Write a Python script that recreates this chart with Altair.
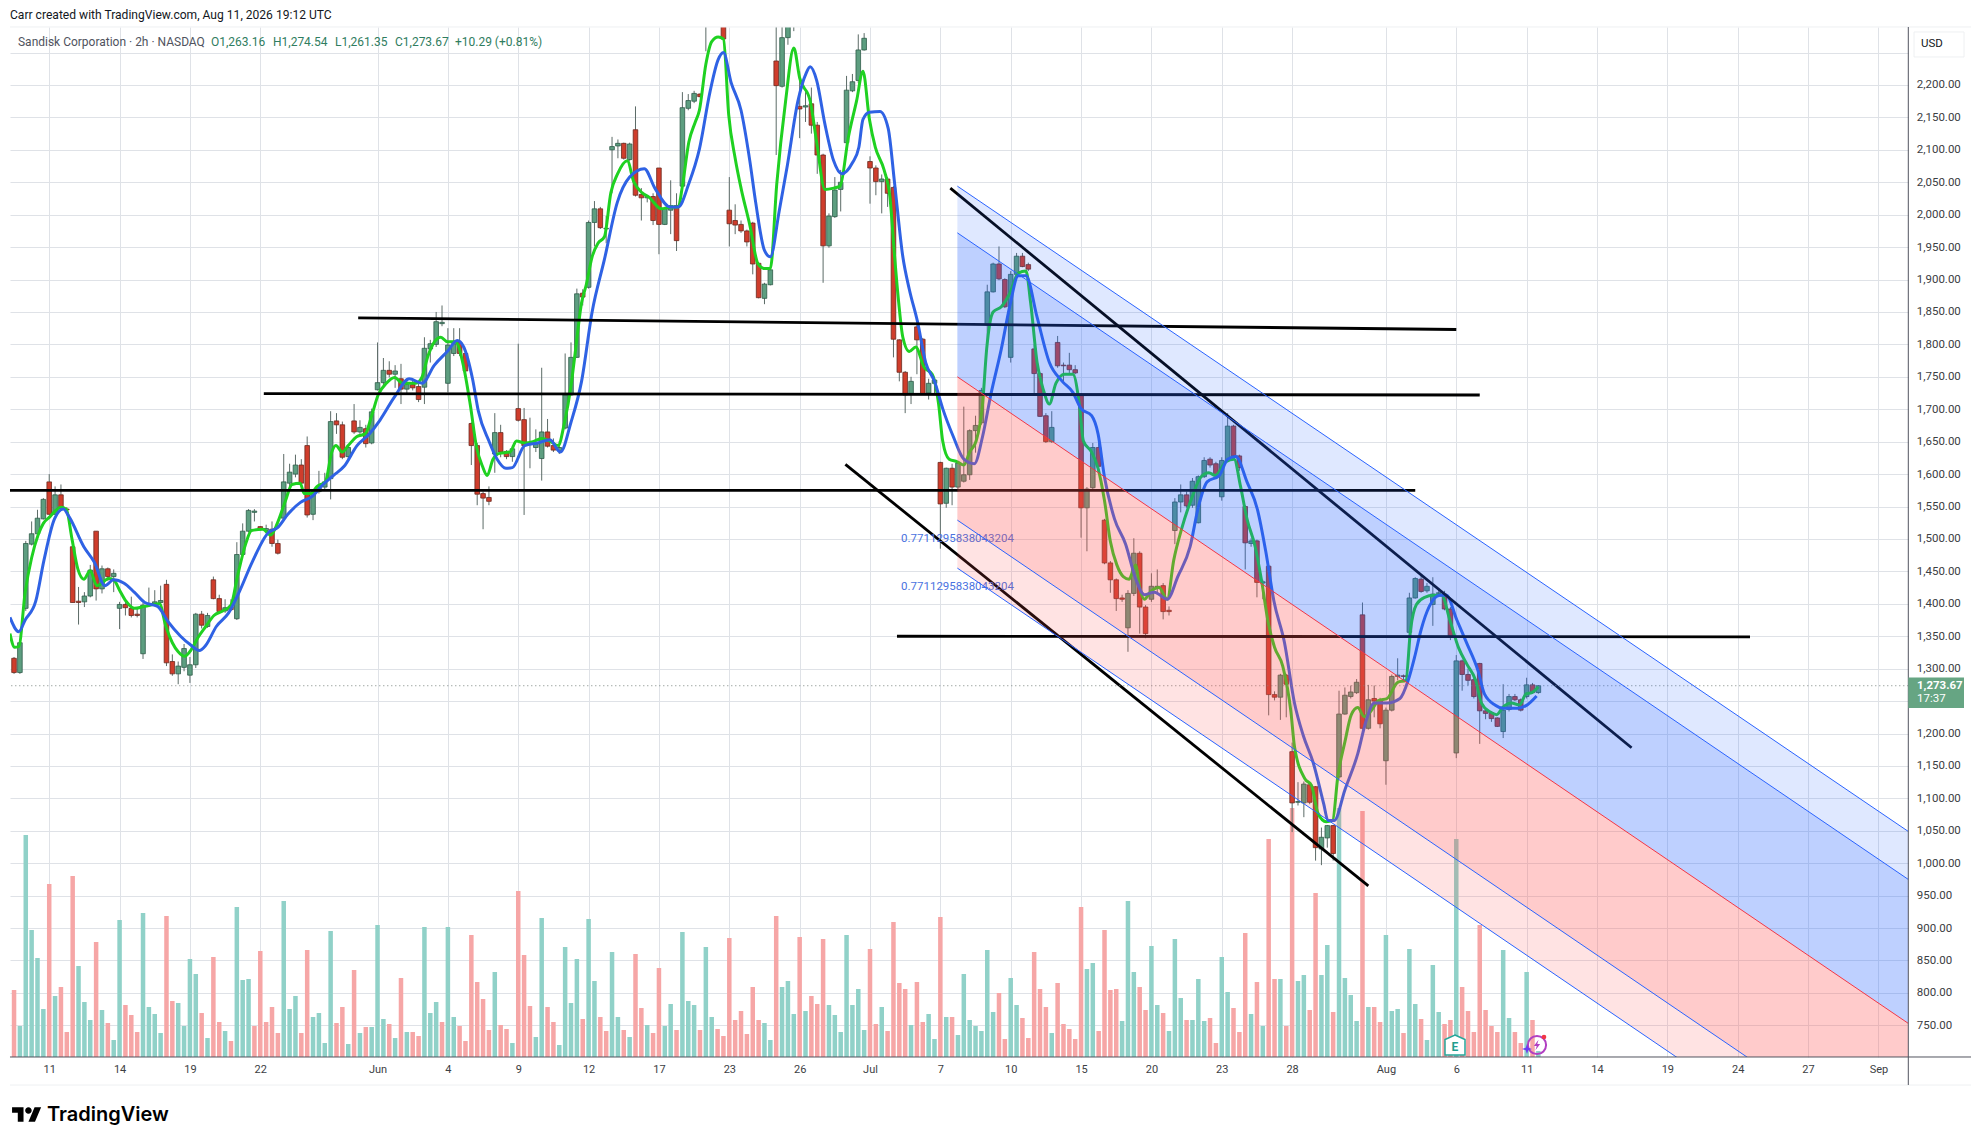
import altair as alt
import pandas as pd

# ---------- candle data (bar index, price) ----------
open_ = [1316,1294,1393,1492,1508,1531,1588,1538,1568,1546,
 1488,1404,1403,1412,1512,1423,1454,1442,1393,1399,
 1393,1384,1323,1397,1398,1402,1430,1311,1292,1302,
 1290,1306,1384,1365,1437,1408,1389,1395,1377,1476,
 1512,1541,1519,1513,1515,1493,1532,1586,1600,1614,
 1644,1538,1573,1580,1593,1682,1676,1627,1682,1665,
 1670,1648,1730,1741,1760,1754,1747,1731,1738,1735,
 1734,1793,1800,1832,1740,1786,1803,1786,1678,1644,
 1570,1564,1631,1664,1635,1627,1701,1684,1646,1641,
 1624,1665,1644,1636,1671,1722,1780,1879,1888,1988,
 2009,1978,2100,2106,2110,2085,2131,2031,2026,2028,
 2072,1985,2007,2014,2044,2164,2175,2186,2300,2345,
 2380,2330,2007,1991,1985,1975,1987,1925,1871,1892,
 2237,2198,2273,2300,2167,2166,2171,2138,2092,1952,
 1997,2039,2111,2191,2207,2254,2082,2072,2051,2055,
 2042,1807,1757,1723,1827,1808,1725,1740,1618,1555,
 1609,1580,1589,1599,1667,1679,1830,1881,1924,1900,
 1780,1908,1936,1923,1793,1755,1690,1650,1803,1768,
 1768,1761,1722,1548,1579,1641,1529,1463,1437,1409,
 1363,1416,1478,1395,1407,1426,1428,1390,1513,1557,
 1568,1552,1525,1596,1623,1616,1565,1621,1674,1628,
 1550,1493,1497,1432,1458,1260,1256,1290,1172,1094,
 1093,1121,1118,1022,1039,1058,1133,1230,1257,1263,
 1383,1208,1254,1252,1158,1236,1288,1289,1356,1409,
 1438,1420,1399,1416,1415,1392,1170,1312,1291,1283,
 1308,1235,1232,1224,1203,1237,1257,1252,1257,1275,1263.16]
close_ = [1294,1340,1493,1508,1532,1561,1538,1568,1547,1545,
 1402,1402,1412,1452,1423,1454,1442,1447,1399,1394,
 1382,1382,1398,1398,1403,1405,1309,1292,1304,1331,
 1306,1384,1367,1382,1408,1388,1394,1391,1476,1512,
 1544,1543,1515,1516,1493,1478,1588,1603,1614,1586,
 1537,1573,1579,1588,1681,1676,1626,1641,1665,1672,
 1647,1696,1741,1760,1754,1759,1731,1738,1733,1715,
 1794,1801,1835,1834,1799,1801,1786,1759,1644,1569,
 1563,1558,1664,1634,1627,1639,1683,1644,1647,1648,
 1665,1643,1637,1641,1722,1780,1878,1873,1988,2009,
 1980,1979,2105,2110,2087,2109,2030,2026,2028,1991,
 1985,2010,2014,1960,2165,2176,2187,2182,2345,2380,
 2390,2271,1986,1984,1975,1958,1924,1872,1893,1915,
 2199,2273,2300,2330,2163,2168,2138,2092,1952,1998,
 2038,2050,2192,2205,2254,2272,2072,2051,2055,2033,
 1808,1757,1722,1743,1807,1723,1740,1745,1554,1609,
 1580,1617,1599,1667,1675,1729,1881,1924,1901,1858,
 1908,1936,1920,1916,1755,1689,1650,1672,1767,1767,
 1761,1756,1548,1577,1641,1612,1463,1437,1408,1407,
 1416,1478,1395,1354,1427,1427,1388,1388,1557,1568,
 1551,1589,1596,1621,1614,1598,1621,1674,1628,1610,
 1494,1497,1433,1434,1260,1256,1290,1276,1093,1095,
 1122,1094,1024,1040,1058,1015,1230,1259,1264,1279,
 1208,1252,1250,1215,1236,1288,1290,1288,1409,1439,
 1419,1427,1415,1417,1392,1349,1312,1291,1282,1257,
 1235,1231,1223,1211,1236,1257,1252,1236,1275,1263,1273.67]
high_ = [1318,1342,1497,1527,1545,1563,1600,1581,1584,1549,
 1490,1426,1418,1460,1512,1459,1456,1453,1403,1403,
 1411,1393,1402,1425,1421,1428,1437,1322,1311,1338,
 1318,1386,1389,1386,1442,1414,1407,1407,1495,1524,
 1546,1546,1520,1522,1527,1499,1631,1616,1630,1623,
 1658,1577,1605,1602,1697,1694,1681,1644,1708,1683,
 1676,1701,1803,1779,1774,1768,1770,1747,1747,1740,
 1811,1807,1850,1860,1825,1825,1825,1793,1680,1648,
 1573,1581,1694,1676,1637,1644,1801,1702,1687,1669,
 1764,1685,1655,1651,1786,1803,1886,1885,1991,2021,
 2012,1998,2120,2116,2111,2111,2167,2041,2030,2033,
 2072,2012,2053,2033,2189,2186,2191,2187,2370,2400,
 2410,2350,2058,2016,1991,1977,1989,1927,1895,1917,
 2300,2300,2320,2350,2221,2189,2196,2143,2094,2002,
 2058,2069,2214,2217,2278,2280,2090,2076,2062,2058,
 2044,1808,1759,1750,1832,1810,1747,1750,1619,1610,
 1616,1619,1704,1669,1690,1733,1892,1926,1951,1902,
 1913,1941,1941,1926,1800,1757,1694,1697,1813,1772,
 1787,1768,1725,1580,1648,1648,1531,1466,1439,1414,
 1421,1501,1481,1398,1447,1453,1432,1396,1563,1584,
 1573,1594,1598,1626,1626,1619,1626,1694,1676,1630,
 1552,1501,1499,1437,1460,1265,1292,1292,1186,1125,
 1126,1123,1119,1055,1059,1059,1266,1271,1274,1284,
 1402,1275,1274,1255,1240,1291,1316,1291,1417,1441,
 1443,1432,1441,1424,1420,1395,1321,1314,1300,1289,
 1309,1238,1234,1225,1276,1261,1261,1254,1286,1278,1274.54]
low_ = [1292,1292,1389,1490,1503,1530,1537,1537,1545,1542,
 1402,1368,1395,1410,1405,1416,1435,1418,1361,1382,
 1379,1379,1315,1395,1396,1398,1304,1289,1276,1296,
 1278,1301,1362,1363,1407,1386,1386,1389,1375,1474,
 1510,1527,1513,1510,1488,1476,1531,1581,1595,1581,
 1533,1529,1570,1577,1561,1662,1623,1623,1662,1662,
 1641,1646,1729,1736,1749,1733,1708,1722,1729,1711,
 1708,1772,1796,1828,1726,1782,1782,1756,1614,1552,
 1515,1552,1602,1626,1623,1619,1681,1537,1609,1634,
 1590,1641,1634,1631,1669,1721,1779,1860,1886,1951,
 1978,1956,2033,2087,2085,2083,2028,1991,2019,1984,
 1939,1984,1970,1944,2042,2161,2172,2181,2252,2330,
 2340,2271,1951,1970,1972,1951,1908,1871,1862,1891,
 2092,2196,2262,2283,2118,2143,2125,2063,1895,1949,
 1995,2005,2090,2189,2203,2253,2017,2030,2002,2012,
 1780,1743,1694,1708,1754,1722,1715,1722,1485,1548,
 1552,1573,1587,1591,1633,1676,1801,1880,1899,1856,
 1772,1906,1919,1913,1722,1688,1648,1648,1764,1743,
 1756,1754,1502,1481,1577,1610,1461,1417,1389,1403,
 1326,1412,1354,1347,1403,1414,1376,1382,1492,1541,
 1548,1548,1524,1594,1610,1596,1559,1619,1626,1605,
 1453,1488,1410,1407,1228,1251,1221,1225,1048,1089,
 1071,1091,1004,997,1024,1004,1130,1229,1254,1261,
 1206,1206,1225,1208,1121,1234,1282,1281,1353,1408,
 1417,1417,1366,1413,1390,1344,1162,1266,1274,1254,
 1184,1222,1218,1210,1193,1234,1250,1234,1254,1261,1261.35]

# ---------- volume (relative units) ----------
volume = [67,31,222,127,99,48,173,61,70,25,
 181,91,55,37,115,47,34,17,137,52,
 42,25,144,50,43,24,141,56,54,31,
 98,83,44,19,100,35,26,16,150,77,
 78,31,106,35,50,24,156,48,61,24,
 107,40,44,14,126,34,50,13,87,24,
 30,30,132,38,33,19,79,25,25,21,
 130,44,55,35,130,40,31,16,122,75,
 58,27,85,32,28,14,166,102,51,20,
 139,50,35,12,110,54,98,38,138,76,
 40,26,105,40,27,20,103,49,32,24,
 89,31,53,27,125,56,52,27,110,40,
 28,21,119,37,46,23,70,37,34,17,
 141,70,76,43,120,46,61,53,118,52,
 42,25,122,52,68,27,108,33,50,26,
 135,74,68,32,75,35,43,18,140,40,
 40,22,83,37,31,26,107,45,64,18,
 79,52,39,19,105,68,50,24,74,33,
 28,18,150,88,94,26,127,67,68,36,
 156,85,70,47,111,52,44,26,118,59,
 37,37,78,36,39,14,100,65,49,25,
 124,43,75,31,218,78,78,31,249,76,
 82,47,164,82,112,45,249,79,62,36,
 246,50,50,35,122,46,48,24,108,53,
 38,17,92,45,33,37,218,70,46,25,
 132,47,31,25,107,39,25,14,85,37,6]
vol_side = ("RGGGGGRGRR" "RGGGRGRGGR" "RRGGGGRRGG" "GGRGRRGRGG" "GRRRRRGGGR"
            "RGGGGRRGRG" "RGGGRGRGRR" "GGGRGGRRRR" "RRGRRGRRRG" "GRRGGGGRGG"
            "RRGGRGRRGR" "RGGRGGGRGG" "RRRRRRRRGG" "RGGGRGRRRG" "GGGGGGRRGR"
            "RRRGRRGGRG" "RGGGGGGGRR" "GGRRRRRGRR" "RRRGGRRRRG" "GGRRGGRGGG"
            "RGGGRRGGRR" "RGRGRRGRRG" "GRRGGRGGGG" "RGRRGGGRGG" "RGGGRRGRRR"
            "RRRRGGRRGRG")

# ---------- moving averages: (bar position, price) ----------
ma_fast_x = [-0.7,0.1,0.8,1.9,3.0,4.1,5.0,6.1,6.9,8.0,8.9,9.9,10.9,11.9,13.0,14.1,15.0,16.1,17.0,18.0,19.1,20.5,22.3,24.8,25.9,27.0,28.0,29.1,30.2,31.3,32.7,34.1,35.6,37.0,38.1,39.5,40.5,42.4,43.8,44.9,46.3,47.4,48.8,49.5,50.6,51.7,53.1,54.2,54.9,56.0,57.0,58.5,59.9,61.0,62.1,63.5,64.9,66.3,68.5,69.6,70.6,71.7,72.8,73.9,75.3,76.7,77.8,78.9,79.9,80.7,81.7,82.8,84.6,85.7,87.1,88.5,90.0,91.4,92.8,93.9,95.0,95.7,96.8,97.6,98.6,99.6,100.7,101.8,102.9,104.6,105.7,107.1,108.3,110.4,112.2,113.3,114.0,115.1,116.2,116.9,118.0,119.0,120.1,121.0,121.9,123.0,124.0,125.5,126.9,128.0,129.0,130.1,131.6,133.0,134.0,135.8,136.9,138.3,139.8,140.9,142.3,143.7,144.8,145.9,146.9,148.4,149.4,150.2,150.9,151.6,152.7,153.8,155.2,156.6,157.7,158.4,159.5,160.9,162.0,163.0,164.1,165.2,165.9,167.0,168.4,169.8,171.3,172.6,173.4,174.5,175.6,176.6,177.7,179.2,180.6,181.7,182.4,183.8,184.9,186.0,187.0,188.1,189.2,190.2,191.3,192.0,192.8,193.8,195.3,196.7,197.8,199.2,201.0,202.4,203.8,204.9,206.7,208.1,209.2,210.3,211.7,212.8,213.9,215.0,216.4,217.8,218.4,220.2,221.3,222.4,223.8,224.9,225.8,227.0,228.1,229.2,230.3,231.3,232.8,234.2,236.0,237.4,238.2,239.2,240.6,242.1,243.5,244.9,246.4,247.8,249.3,250.3,251.8,252.9,253.9,255.4,256.8,257.9,258.9,260.0]
ma_fast_y = [1354,1333,1334,1418,1471,1506,1524,1534,1542,1549,1546,1499,1453,1438,1451,1428,1432,1439,1437,1421,1404,1393,1396,1400,1365,1340,1326,1319,1329,1347,1365,1382,1389,1398,1442,1492,1513,1515,1506,1524,1559,1584,1586,1570,1570,1581,1588,1634,1644,1634,1644,1658,1662,1690,1722,1740,1749,1740,1740,1750,1782,1804,1811,1804,1804,1765,1708,1641,1612,1598,1623,1632,1634,1651,1648,1650,1655,1651,1644,1680,1736,1786,1864,1892,1935,1956,1966,2034,2062,2083,2051,2034,2027,2009,2012,2012,2044,2112,2143,2161,2232,2267,2274,2271,2154,2087,2041,1984,1924,1917,1917,2048,2175,2257,2211,2175,2112,2039,2041,2044,2119,2175,2221,2147,2104,2069,2027,1935,1864,1811,1789,1796,1765,1754,1708,1651,1623,1619,1614,1634,1651,1708,1793,1850,1858,1878,1910,1913,1864,1772,1729,1708,1740,1754,1754,1708,1651,1634,1609,1559,1496,1460,1442,1438,1460,1425,1407,1418,1425,1407,1467,1517,1566,1595,1602,1598,1619,1623,1581,1531,1488,1435,1372,1333,1304,1233,1180,1130,1120,1077,1064,1066,1134,1187,1229,1240,1226,1233,1251,1254,1279,1282,1360,1399,1410,1413,1413,1375,1332,1307,1282,1247,1233,1229,1240,1247,1244,1261,1263,1272]
ma_slow_x = [-0.7,0.8,1.9,3.7,5.1,6.9,8.4,9.4,11.9,13.7,15.5,17.0,18.7,20.5,22.3,24.5,26.3,28.4,30.2,31.6,32.7,34.5,36.6,38.4,40.6,43.4,44.9,46.7,48.8,50.9,52.7,54.5,56.3,58.5,60.6,62.4,64.9,67.4,69.6,71.7,73.9,75.6,76.7,78.2,79.2,81.0,82.4,83.9,85.0,87.1,89.3,91.4,93.2,95.0,96.8,98.6,100.7,102.9,105.0,107.5,109.3,111.9,113.3,115.1,116.9,118.7,120.1,121.0,122.3,124.0,125.5,126.5,128.0,129.0,130.5,131.9,133.7,135.1,135.8,136.9,138.3,139.8,141.2,143.0,144.1,144.8,145.9,147.7,149.1,150.2,151.6,152.7,154.1,155.5,157.0,158.4,160.2,162.0,163.8,165.2,166.6,168.4,169.8,171.3,172.6,174.5,176.6,178.8,180.6,182.0,183.8,184.9,186.0,187.7,189.6,191.3,192.8,194.5,196.7,198.5,200.6,202.0,203.5,205.6,207.0,208.4,210.3,212.1,213.5,214.9,216.7,218.4,219.9,221.6,223.4,224.1,225.2,227.0,229.2,230.6,232.0,234.2,236.4,237.8,238.9,240.0,241.4,243.2,244.3,246.1,247.8,249.7,250.8,252.6,254.0,256.5,257.9,259.7]
ma_slow_y = [1379,1357,1375,1404,1467,1531,1546,1534,1488,1464,1428,1437,1432,1418,1402,1396,1372,1350,1336,1328,1336,1365,1386,1418,1464,1510,1517,1538,1556,1566,1584,1598,1612,1644,1662,1683,1719,1747,1740,1768,1789,1806,1796,1747,1697,1651,1623,1609,1610,1644,1648,1653,1634,1680,1743,1850,1931,2019,2058,2071,2041,2012,2012,2048,2101,2189,2239,2250,2204,2161,2083,2019,1945,1935,2005,2076,2175,2218,2228,2207,2140,2083,2063,2080,2104,2147,2158,2159,2133,2048,1935,1885,1835,1772,1743,1701,1658,1623,1616,1658,1722,1793,1857,1906,1906,1842,1772,1743,1726,1701,1690,1662,1595,1531,1492,1439,1414,1418,1407,1442,1488,1549,1588,1598,1623,1627,1588,1545,1481,1404,1340,1247,1197,1155,1091,1066,1066,1113,1169,1219,1247,1247,1254,1282,1318,1360,1396,1413,1413,1375,1339,1297,1261,1244,1239,1239,1243,1258]

# ---------- drawings ----------
trend_names = ["a","a","b","b","c","c","d","d","e","e","f","f"]
trend_x = [58.7,246.0, 42.6,250.0, -0.7,239.0, 150.6,296.1, 159.7,275.9, 141.8,231.0]
trend_y = [1841,1823, 1724,1722, 1575,1575, 1350,1349, 2041,1178, 1615,965]

channel_x = [160.9,323.1]
channel_top = [2044,1049]
channel_upper = [1972,975]
channel_mid = [1750,753]
channel_lower = [1529,532]
channel_bottom = [1455,458]

# ---------- axis contents ----------
tick_pos = [6,18,30,42,62,74,86,98,110,122,134,146,158,170,182,194,206,218,234,246,258,270,282,294,306,318]
tick_txt = ["11","14","19","22","Jun","4","9","12","17","23","26","Jul","7","10","15","20","23","28","Aug","6","11","14","19","24","27","Sep"]
price_ticks = list(range(750,2300,50))
X_DOMAIN = [-0.69,323.1]
Y_DOMAIN = [701.2,2289.4]
VOL_DOMAIN = [0,1030]
FONT = "Roboto"
GRID = "#dfe2e7"

# ---------- frames ----------
n = len(close_)
candles = pd.DataFrame({"i":range(n),"open":open_,"high":high_,"low":low_,"close":close_,"vol":volume,"side":list(vol_side)})
candles["fill"] = ["#5d9e80" if c>=o else "#cf3d2c" for o,c in zip(open_,close_)]
candles["edge"] = ["#2f5c49" if c>=o else "#6b2a20" for o,c in zip(open_,close_)]
candles["volc"] = candles["side"].map({"G":"#90d1c8","R":"#f6a6a6"})
fast = pd.DataFrame({"i":ma_fast_x,"v":ma_fast_y})
slow = pd.DataFrame({"i":ma_slow_x,"v":ma_slow_y})
trends = pd.DataFrame({"name":trend_names,"i":trend_x,"v":trend_y})
chan = pd.DataFrame({"i":channel_x,"top":channel_top,"upper":channel_upper,"mid":channel_mid,"lower":channel_lower,"bottom":channel_bottom})

xs = alt.Scale(domain=X_DOMAIN,nice=False,zero=False,padding=0)
ys = alt.Scale(domain=Y_DOMAIN,nice=False,zero=False,padding=0)
vs = alt.Scale(domain=VOL_DOMAIN,nice=False,zero=False,padding=0)
X = alt.X("i:Q",scale=xs,axis=None)
def Y(f): return alt.Y(f+":Q",scale=ys,axis=None)

label_expr = "[" + ",".join("'%s'"%t for t in tick_txt) + "][indexof([" + ",".join(str(t) for t in tick_pos) + "],datum.value)]"

axes = alt.Chart(candles).mark_point(opacity=0).encode(
    x=alt.X("i:Q",scale=xs,title=None,axis=alt.Axis(values=tick_pos,labelExpr=label_expr,grid=True,gridColor=GRID,gridWidth=1,
        domain=False,ticks=False,labelPadding=7,labelFont=FONT,labelFontSize=11,labelColor="#3c4043",labelFlush=False,labelOverlap=False,zindex=0)),
    y=alt.Y("close:Q",scale=ys,title=None,axis=alt.Axis(orient="right",values=price_ticks,
        labelExpr="(datum.value>=2250||datum.value==1250)?'':format(datum.value,',.2f')",
        grid=True,gridColor=GRID,gridWidth=1,domain=False,ticks=False,labelPadding=8,labelFont=FONT,labelFontSize=11.5,labelColor="#3c4043",labelOverlap=False,labelFlush=False,zindex=0)),
)
vol_layer = alt.Chart(candles).mark_bar(size=4.5,clip=True).encode(
    x=X, y=alt.Y("vol:Q",scale=vs,axis=None), color=alt.Color("volc:N",scale=None))
wicks = alt.Chart(candles).mark_rule(strokeWidth=1,color="#5b6a66",clip=True).encode(x=X,y=Y("low"),y2="high:Q")
bodies = alt.Chart(candles).mark_bar(size=4.6,strokeWidth=0.8,clip=True).encode(
    x=X,y=Y("open"),y2="close:Q",color=alt.Color("fill:N",scale=None),stroke=alt.Stroke("edge:N",scale=None))
fast_l = alt.Chart(fast).mark_line(color="#1fd121",strokeWidth=3,interpolate="monotone",clip=True).encode(x=X,y=Y("v"))
slow_l = alt.Chart(slow).mark_line(color="#2f62e4",strokeWidth=3,interpolate="monotone",clip=True).encode(x=X,y=Y("v"))
trend_l = alt.Chart(trends).mark_line(color="#000000",strokeWidth=2.8,clip=True).encode(x=X,y=Y("v"),detail="name:N")

def band(a,b,color,op):
    return alt.Chart(chan).mark_area(color=color,opacity=op,clip=True).encode(x=X,y=Y(a),y2=alt.Y2(b+":Q"))
def cline(a,color):
    return alt.Chart(chan).mark_line(color=color,strokeWidth=1,clip=True).encode(x=X,y=Y(a))
bands = [band("top","upper","#2962ff",0.15),band("upper","mid","#2962ff",0.30),
         band("mid","lower","#ff5252",0.30),band("lower","bottom","#ff5252",0.16),
         cline("top","#2962ff"),cline("upper","#2962ff"),cline("mid","#f23645"),cline("lower","#2962ff"),cline("bottom","#2962ff")]

ratio_txt = pd.DataFrame({"i":[151.3,151.3],"v":[1500.6,1426],"t":["0.7711295838043204","0.7711295838043204"]})
ratio_l = alt.Chart(ratio_txt).mark_text(align="left",baseline="middle",font=FONT,fontSize=11.5,color="#4a72e0").encode(x=X,y=Y("v"),text="t:N")

last_line = alt.Chart(pd.DataFrame({"v":[close_[-1]]})).mark_rule(color="#78837d",strokeWidth=1,strokeDash=[1,3]).encode(y=Y("v"))

# ---------- page furniture: positions are in pixels relative to the plot origin ----------
OX,OY = 10,27
AXX = 1908.3
def text(s,x,y,color="#131722",size=11.5,weight="normal",align="left",font=FONT):
    return alt.Chart(pd.DataFrame({"t":[s]})).mark_text(align=align,baseline="middle",font=font,fontSize=size,fontWeight=weight,color=color).encode(
        x=alt.value(x-OX),y=alt.value(y-OY),text="t:N")
def seg(x1,y1,x2,y2,color,w=1):
    return alt.Chart(pd.DataFrame({"a":[0]})).mark_rule(color=color,strokeWidth=w).encode(
        x=alt.value(x1-OX),x2=alt.value(x2-OX),y=alt.value(y1-OY),y2=alt.value(y2-OY))
def box(x1,y1,x2,y2,**kw):
    return alt.Chart(pd.DataFrame({"a":[0]})).mark_rect(**kw).encode(
        x=alt.value(x1-OX),x2=alt.value(x2-OX),y=alt.value(y1-OY),y2=alt.value(y2-OY))
def glyph(path,x,y,size,**kw):
    return alt.Chart(pd.DataFrame({"a":[0]})).mark_point(shape=path,size=size,**kw).encode(x=alt.value(x-OX),y=alt.value(y-OY))

TV = ("M-0.222 0.5H-0.611V-0.111H-1V-0.5H-0.222Z"
      "M0.556 0.5H0.111L0.528 -0.5H0.972Z"
      "M-0.111 -0.278a0.222 0.222 0 1 0 0.444 0a0.222 0.222 0 1 0 -0.444 0Z")
HOUSE = "M0 -1L1 -0.55L1 1L-1 1L-1 -0.55Z"
BOLT = "M0.3 -1L-0.6 0.2L-0.05 0.2L-0.3 1L0.6 -0.2L0.05 -0.2Z"
STAR = "M0 -1L0.25 -0.25L1 0L0.25 0.25L0 1L-0.25 0.25L-1 0L-0.25 -0.25Z"

GREEN_TXT = "#2f7d60"
furniture = [
    seg(10,27,1972,27,"#eef0f2"), seg(10,1085,1972,1085,"#eef0f2"),
    seg(10,1057,1972,1057,"#50535e"), seg(AXX,27,AXX,1085,"#50535e"),
    box(1914,32,1964,57,fill="#ffffff",stroke="#eef0f2"),
    text("USD",1921,44),
    box(AXX,677.5,1964,708,fill="#66a583"),
    text("1,273.67",1917,686,color="#ffffff",weight="bold",size=11.5),
    text("17:37",1917,699.5,color="#ffffff",size=11.5),
    text("Carr created with TradingView.com, Aug 11, 2026 19:12 UTC",10,14.7,color="#131722",size=12.1),
    text("Sandisk Corporation \u00b7 2h \u00b7 NASDAQ",18,42,color="#50535e",size=12),
    text("O1,263.16",211,42,color=GREEN_TXT,size=12), text("H1,274.54",273,42,color=GREEN_TXT,size=12),
    text("L1,261.35",335,42,color=GREEN_TXT,size=12), text("C1,273.67",395,42,color=GREEN_TXT,size=12),
    text("+10.29 (+0.81%)",455,42,color=GREEN_TXT,size=12),
    glyph(TV,26.8,1114.5,870,filled=True,color="#000000",opacity=1),
    text("TradingView",47,1115,color="#000000",size=20,weight=600,font="Inter"),
    glyph(HOUSE,1455,1045,400,filled=True,fill="#ffffff",stroke="#26a69a",strokeWidth=1.5,opacity=1),
    text("E",1455,1047,color="#1f9e8e",size=12,weight="bold",align="center"),
    glyph("circle",1537,1045,330,filled=False,color="#b13fc2",strokeWidth=2,opacity=1),
    glyph(BOLT,1537,1045,110,filled=True,color="#b13fc2",opacity=1),
    glyph(STAR,1527,1049,100,filled=True,color="#6a3df0",opacity=1),
    glyph("circle",1544,1037,22,filled=True,color="#f23645",opacity=1),
]

chart = alt.layer(axes,vol_layer,wicks,bodies,fast_l,slow_l,trend_l,ratio_l,last_line,*bands,*furniture).resolve_scale(y="independent").resolve_axis(x="independent").properties(
    width=1898.3,height=1030,
    padding={"left":2,"top":19,"right":63,"bottom":78},
    autosize=alt.AutoSizeParams(type="none"),
    background="#ffffff",
).configure_view(stroke=None)

chart.save("out.html",embed_options={"renderer":"svg","actions":False})
